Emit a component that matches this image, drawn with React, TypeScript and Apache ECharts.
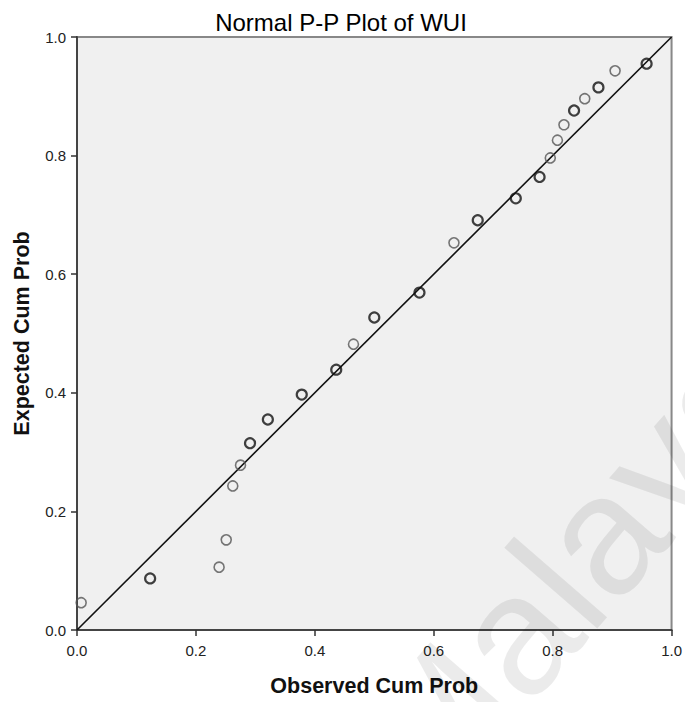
import React, { useEffect, useRef } from "react";
import * as echarts from "echarts";

const titleText = "Normal P-P Plot of WUI";
const xName = "Observed Cum Prob";
const yName = "Expected Cum Prob";

// Darker circles (overlapping / repeated cases)
const darkX = [0.123, 0.291, 0.321, 0.378, 0.436, 0.5, 0.576, 0.674, 0.738, 0.778, 0.836, 0.877, 0.958];
const darkY = [0.087, 0.315, 0.355, 0.397, 0.439, 0.527, 0.569, 0.691, 0.728, 0.764, 0.876, 0.915, 0.955];
// Lighter circles
const lightX = [0.007, 0.239, 0.251, 0.262, 0.275, 0.465, 0.634, 0.796, 0.808, 0.819, 0.854, 0.905];
const lightY = [0.046, 0.106, 0.152, 0.243, 0.278, 0.482, 0.653, 0.796, 0.826, 0.852, 0.896, 0.943];
// Diagonal reference line
const refX = [0, 1];
const refY = [0, 1];

const watermark = "Malaya";

export default function App() {
  const ref = useRef<HTMLDivElement>(null);
  useEffect(() => {
    if (!ref.current) return;
    const chart = echarts.init(ref.current, undefined, { renderer: "svg" });
    const font = "'Liberation Sans', Arial, sans-serif";
    const axisCommon = {
      type: "value" as const,
      min: 0,
      max: 1,
      interval: 0.2,
      nameLocation: "middle" as const,
      nameTextStyle: { fontFamily: font, fontSize: 21.5, fontWeight: "bold", color: "#111" },
      axisLine: { show: true, onZero: false, lineStyle: { color: "#444", width: 2 } },
      axisTick: { show: true, inside: false, length: 6, lineStyle: { color: "#333", width: 1.5 } },
      axisLabel: {
        fontFamily: font,
        fontSize: 15,
        color: "#222",
        formatter: (v: number) => v.toFixed(1),
      },
      splitLine: { show: false },
    };
    chart.setOption({
      animation: false,
      backgroundColor: "#ffffff",
      title: {
        text: titleText,
        left: 336,
        top: 5,
        textAlign: "center",
        textStyle: { fontFamily: font, fontSize: 24, fontWeight: "normal", color: "#000" },
      },
      grid: {
        left: 77,
        top: 37,
        width: 595,
        height: 595,
        show: true,
        backgroundColor: "#f0f0f0",
        borderColor: "#888",
        borderWidth: 2,
      },
      xAxis: {
        ...axisCommon,
        name: xName,
        nameGap: 45,
        axisLabel: { ...axisCommon.axisLabel, margin: 13 },
      },
      yAxis: {
        ...axisCommon,
        name: yName,
        nameGap: 44,
        axisLabel: { ...axisCommon.axisLabel, margin: 11 },
      },
      series: [
        {
          type: "line",
          data: refX.map((x, i) => [x, refY[i]]),
          symbol: "none",
          lineStyle: { color: "#111", width: 1.6 },
          z: 2,
        },
        {
          type: "scatter",
          data: lightX.map((x, i) => [x, lightY[i]]),
          symbol: "circle",
          symbolSize: 10,
          itemStyle: { color: "rgba(0,0,0,0)", borderColor: "#555", borderWidth: 1.6 },
          z: 3,
        },
        {
          type: "scatter",
          data: darkX.map((x, i) => [x, darkY[i]]),
          symbol: "circle",
          symbolSize: 10,
          itemStyle: { color: "rgba(0,0,0,0)", borderColor: "#111", borderWidth: 2.2 },
          z: 4,
        },
      ],
      graphic: [
        {
          type: "text",
          x: 570,
          y: 570,
          rotation: (49 * Math.PI) / 180,
          z: 100,
          silent: true,
          style: {
            text: watermark,
            fontFamily: font,
            fontSize: 170,
            fill: "rgba(0,0,0,0.08)",
            textAlign: "center",
            textVerticalAlign: "middle",
          },
        },
      ],
    });
    return () => chart.dispose();
  }, []);
  return (
    <div
      ref={ref}
      style={{ position: "absolute", left: 0, top: 0, width: 685, height: 702 }}
    />
  );
}
